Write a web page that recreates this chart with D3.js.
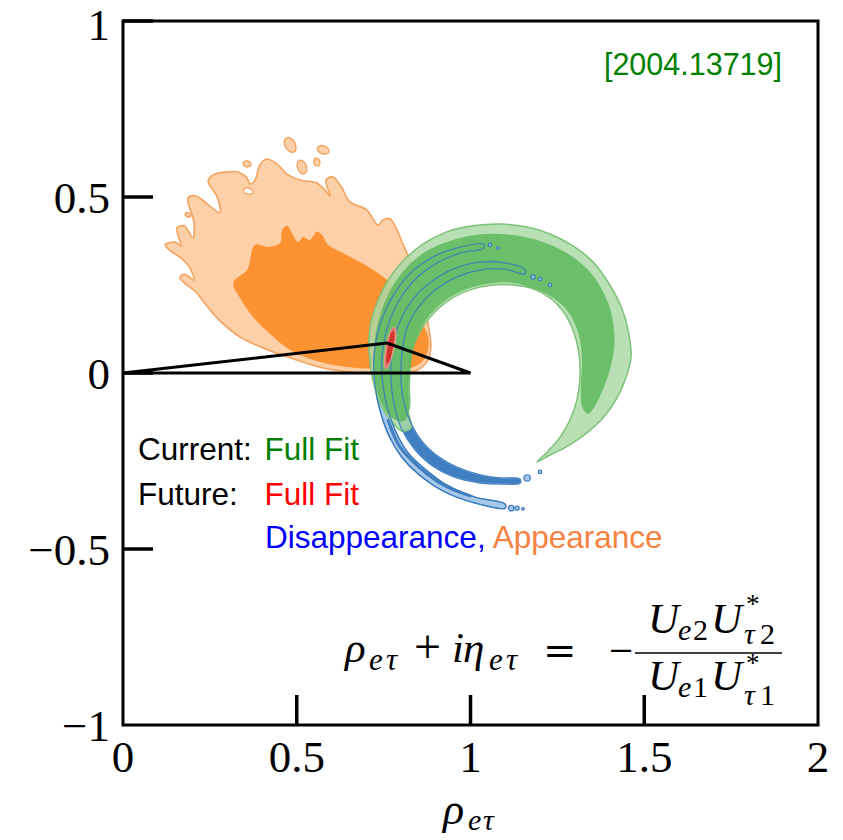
<!DOCTYPE html>
<html>
<head>
<meta charset="utf-8">
<script src="https://cdn.jsdelivr.net/npm/d3@7"></script>
<style>
  html, body { margin: 0; padding: 0; background: #ffffff; }
  svg { display: block; }
</style>
</head>
<body>
<svg id="chart" width="843" height="840"></svg>
<script>
// ---- axis ticks -------------------------------------------------------
const xTicks = [0, 0.5, 1, 1.5, 2];
const xTickLabels = ["0", "0.5", "1", "1.5", "2"];
const yTicks = [-1, -0.5, 0, 0.5, 1];
const yTickLabels = ["\u22121", "\u22120.5", "0", "0.5", "1"];

// ---- appearance channel (orange) : outer and inner credible regions ----
const appearanceOuter = [
  [0.121,0.364],[0.150,0.372],[0.167,0.361],[0.155,0.412],[0.176,0.418],[0.201,0.384],
  [0.204,0.429],[0.187,0.497],[0.210,0.503],[0.250,0.474],[0.279,0.455],[0.271,0.500],
  [0.245,0.545],[0.259,0.563],[0.299,0.571],[0.331,0.571],[0.357,0.554],[0.365,0.537],
  [0.380,0.548],[0.394,0.591],[0.414,0.608],[0.443,0.594],[0.472,0.565],[0.509,0.548],
  [0.558,0.540],[0.581,0.520],[0.596,0.503],[0.584,0.548],[0.604,0.557],[0.627,0.531],
  [0.653,0.486],[0.702,0.463],[0.734,0.420],[0.748,0.435],[0.768,0.438],[0.791,0.401],
  [0.803,0.372],[0.826,0.321],[0.840,0.278],[0.860,0.236],[0.872,0.179],[0.881,0.122],
  [0.886,0.074],[0.878,0.037],[0.852,0.011],[0.812,0.000],[0.740,-0.003],[0.653,0.003],
  [0.576,0.014],[0.481,0.043],[0.403,0.071],[0.337,0.102],[0.279,0.148],[0.239,0.193],
  [0.210,0.230],[0.164,0.270],[0.176,0.281],[0.204,0.264],[0.193,0.298],[0.170,0.324],
  [0.141,0.344]
];
const appearanceInner = [
  [0.322,0.264],[0.357,0.293],[0.380,0.364],[0.417,0.358],[0.452,0.369],[0.458,0.406],
  [0.472,0.418],[0.489,0.392],[0.504,0.372],[0.518,0.386],[0.538,0.378],[0.558,0.401],
  [0.573,0.392],[0.590,0.364],[0.633,0.341],[0.682,0.315],[0.719,0.293],[0.760,0.264],
  [0.797,0.227],[0.835,0.185],[0.860,0.145],[0.878,0.102],[0.878,0.065],[0.860,0.031],
  [0.826,0.014],[0.760,0.011],[0.645,0.017],[0.547,0.037],[0.481,0.065],[0.414,0.119],
  [0.374,0.159],[0.337,0.213],[0.317,0.250]
];
// small detached islands of the outer region: [rho, eta, rRho, rEta, tilt]
const appearanceIslands = [
  [0.481,0.648,0.0144,0.0227,-30],
  [0.576,0.634,0.0173,0.0114,20],
  [0.515,0.585,0.0130,0.0200,-20],
  [0.558,0.599,0.0086,0.0114,-10],
  [0.357,0.594,0.0115,0.0085,15],
  [0.187,0.449,0.0086,0.0057,30]
];
const appearanceHoles = [
  [0.360,0.517,0.0144,0.0085,15]
];

// ---- current full fit (green) ------------------------------------------
const fullFitOuter = [
  [0.803,-0.165],[0.777,-0.142],[0.742,-0.091],[0.719,-0.020],[0.708,0.060],[0.711,0.131],
  [0.731,0.199],[0.763,0.264],[0.806,0.318],[0.863,0.366],[0.932,0.401],[1.007,0.418],
  [1.085,0.423],[1.163,0.415],[1.229,0.395],[1.295,0.361],[1.353,0.315],[1.401,0.250],
  [1.436,0.182],[1.456,0.108],[1.462,0.045],[1.447,-0.014],[1.422,-0.071],[1.381,-0.128],
  [1.335,-0.170],[1.281,-0.207],[1.229,-0.233],[1.191,-0.253],
  [1.223,-0.222],[1.258,-0.182],[1.286,-0.134],[1.306,-0.077],[1.315,-0.014],[1.312,0.057],
  [1.295,0.122],[1.266,0.176],[1.229,0.213],[1.180,0.239],[1.122,0.250],[1.065,0.250],
  [1.007,0.239],[0.953,0.216],[0.906,0.182],[0.866,0.136],[0.837,0.080],[0.823,0.017],
  [0.817,-0.048],[0.820,-0.105],[0.829,-0.156]
];
const fullFitInner = [
  [0.774,-0.128],[0.737,-0.071],[0.722,-0.006],[0.722,0.065],[0.731,0.131],[0.751,0.196],
  [0.780,0.253],[0.820,0.304],[0.875,0.347],[0.941,0.375],[1.013,0.392],[1.085,0.395],
  [1.160,0.386],[1.226,0.366],[1.286,0.335],[1.338,0.293],[1.376,0.241],[1.401,0.185],
  [1.413,0.122],[1.413,0.065],[1.399,0.003],[1.378,-0.054],[1.355,-0.099],[1.338,-0.116],
  [1.321,-0.094],[1.318,-0.034],[1.321,0.031],[1.315,0.094],[1.298,0.145],[1.269,0.188],
  [1.229,0.219],[1.180,0.241],[1.122,0.256],[1.065,0.256],[1.007,0.244],[0.953,0.222],
  [0.906,0.188],[0.866,0.142],[0.840,0.085],[0.829,0.023],[0.826,-0.043],[0.826,-0.099],
  [0.809,-0.136]
];

// ---- future disappearance (blue): two thin degenerate bands ------------
const disappearanceBandA = [
  [1.158,0.293],[1.099,0.313],[1.025,0.315],[0.950,0.295],[0.884,0.257],[0.830,0.204],
  [0.794,0.139],[0.774,0.063],[0.771,-0.014],[0.780,-0.089],[0.800,-0.155],[0.837,-0.214],
  [0.888,-0.262],[0.949,-0.294],[1.025,-0.312],[1.085,-0.315],[1.143,-0.313],
  [1.142,-0.301],[1.085,-0.298],[1.030,-0.290],[0.962,-0.268],[0.908,-0.238],[0.861,-0.195],
  [0.828,-0.141],[0.808,-0.082],[0.800,-0.014],[0.803,0.057],[0.817,0.128],[0.851,0.188],
  [0.900,0.237],[0.961,0.273],[1.030,0.293],[1.099,0.295],[1.156,0.281]
];
const disappearanceBandB = [
  [1.038,0.366],[0.967,0.357],[0.893,0.330],[0.824,0.281],[0.774,0.214],[0.738,0.132],
  [0.722,0.044],[0.725,-0.035],[0.740,-0.108],[0.767,-0.182],[0.803,-0.240],[0.853,-0.290],
  [0.922,-0.336],[1.011,-0.369],[1.100,-0.384],
  [1.099,-0.372],[1.015,-0.353],[0.931,-0.318],[0.868,-0.272],[0.820,-0.226],[0.787,-0.171],
  [0.762,-0.102],[0.748,-0.034],[0.745,0.041],[0.759,0.123],[0.792,0.201],[0.839,0.264],
  [0.903,0.312],[0.972,0.341],[1.039,0.355]
];
const disappearanceCoreB = [
  [0.763,-0.134],[0.797,-0.210],[0.855,-0.270],[0.927,-0.321],[0.999,-0.349]
];
// stray specks at the band tips: [rho, eta, radius]
const disappearanceDots = [
  [1.180,0.273,0.006],[1.201,0.267,0.005],[1.229,0.250,0.005],
  [1.056,0.364,0.005],[1.079,0.355,0.004],
  [1.163,-0.298,0.009],[1.200,-0.281,0.005],
  [1.117,-0.384,0.008],[1.134,-0.384,0.006],[1.151,-0.386,0.004]
];

// ---- future full fit (red) ---------------------------------------------
const futureOuter = [
  [0.782,0.130],[0.786,0.110],[0.782,0.080],[0.773,0.045],[0.763,0.018],[0.756,0.012],
  [0.752,0.025],[0.755,0.060],[0.762,0.095],[0.773,0.124]
];
const futureInner = [
  [0.779,0.118],[0.780,0.095],[0.774,0.060],[0.765,0.030],[0.759,0.027],[0.759,0.055],
  [0.765,0.090],[0.772,0.115]
];

// ---- unitarity triangle -------------------------------------------------
const unitarityTriangle = [[0, 0], [0.76, 0.085], [1, 0]];

// =========================================================================
const svg = d3.select("#chart");
const x = d3.scaleLinear().domain([0, 2]).range([123, 818]);
const y = d3.scaleLinear().domain([-1, 1]).range([725, 21]);

const smooth = d3.line()
  .x(d => x(d[0])).y(d => y(d[1]))
  .curve(d3.curveCatmullRomClosed.alpha(0.5));
const straight = d3.line()
  .x(d => x(d[0])).y(d => y(d[1]))
  .curve(d3.curveLinearClosed);
const open = d3.line()
  .x(d => x(d[0])).y(d => y(d[1]))
  .curve(d3.curveCatmullRom.alpha(0.5));

const plot = svg.append("g");

function blobs(g, list, fill, stroke, sw) {
  g.selectAll(null).data(list).enter().append("ellipse")
    .attr("cx", d => x(d[0])).attr("cy", d => y(d[1]))
    .attr("rx", d => x(d[2]) - x(0)).attr("ry", d => y(0) - y(d[3]))
    .attr("transform", d => `rotate(${d[4]},${x(d[0])},${y(d[1])})`)
    .attr("fill", fill).attr("stroke", stroke).attr("stroke-width", sw);
}

// appearance
plot.append("path").attr("d", smooth(appearanceOuter))
  .attr("fill", "#fdd0a7").attr("stroke", "#f4a25e").attr("stroke-width", 1.6);
blobs(plot, appearanceIslands, "#fdd0a7", "#f4a25e", 1.4);
blobs(plot, appearanceHoles, "#ffffff", "#f4a25e", 1.4);
plot.append("path").attr("d", smooth(appearanceInner))
  .attr("fill", "#fd9233");

// disappearance fills (sit beneath the green fit)
plot.append("path").attr("d", smooth(disappearanceBandB))
  .attr("fill", "#a6c8ea").attr("stroke", "#3f7fc0").attr("stroke-width", 1.3);
plot.append("path").attr("d", open(disappearanceCoreB))
  .attr("fill", "none").attr("stroke", "#3f7fc0").attr("stroke-width", 3)
  .attr("stroke-linecap", "round");
plot.append("path").attr("d", smooth(disappearanceBandA))
  .attr("fill", "#3f7ec0").attr("stroke", "#8fb9e2").attr("stroke-width", 1.2);

// current full fit
plot.append("path").attr("d", smooth(fullFitOuter))
  .attr("fill", "#acdba7").attr("fill-opacity", 0.85)
  .attr("stroke", "#7cc279").attr("stroke-width", 1.5);
plot.append("path").attr("d", smooth(fullFitInner))
  .attr("fill", "#5db95c").attr("fill-opacity", 0.85);

// disappearance contour lines drawn over the green
plot.append("path").attr("d", smooth(disappearanceBandB))
  .attr("fill", "none").attr("stroke", "#3b7bbd").attr("stroke-width", 1.3).attr("stroke-opacity", 0.85);
plot.append("path").attr("d", smooth(disappearanceBandA))
  .attr("fill", "none").attr("stroke", "#3b7bbd").attr("stroke-width", 1.3).attr("stroke-opacity", 0.85);
plot.selectAll(null).data(disappearanceDots).enter().append("ellipse")
  .attr("cx", d => x(d[0])).attr("cy", d => y(d[1]))
  .attr("rx", d => x(d[2]) - x(0)).attr("ry", d => x(d[2]) - x(0))
  .attr("fill", "#a6c8ea").attr("stroke", "#3b7bbd").attr("stroke-width", 1.2);

// future full fit
plot.append("path").attr("d", smooth(futureOuter))
  .attr("fill", "#e8736b").attr("stroke", "#f0a19a").attr("stroke-width", 1);
plot.append("path").attr("d", smooth(futureInner))
  .attr("fill", "#d2342c");

// unitarity triangle
plot.append("path").attr("d", straight(unitarityTriangle))
  .attr("fill", "none").attr("stroke", "#000").attr("stroke-width", 3)
  .attr("stroke-linejoin", "miter");

// ---- frame and ticks ---------------------------------------------------
svg.append("rect")
  .attr("x", x(0)).attr("y", y(1))
  .attr("width", x(2) - x(0)).attr("height", y(-1) - y(1))
  .attr("fill", "none").attr("stroke", "#000").attr("stroke-width", 3);

const tickLen = 30;
svg.append("g").selectAll("line").data(xTicks.slice(1, -1)).enter().append("line")
  .attr("x1", d => x(d)).attr("x2", d => x(d))
  .attr("y1", y(-1)).attr("y2", y(-1) - tickLen)
  .attr("stroke", "#000").attr("stroke-width", 3.5);
svg.append("g").selectAll("line").data(yTicks.slice(1)).enter().append("line")
  .attr("x1", x(0)).attr("x2", x(0) + tickLen)
  .attr("y1", d => y(d)).attr("y2", d => y(d))
  .attr("stroke", "#000").attr("stroke-width", 3.5);

const serif = "'Liberation Serif', 'Times New Roman', serif";
const sans = "'Liberation Sans', Arial, Helvetica, sans-serif";

svg.append("g").selectAll("text").data(xTicks).enter().append("text")
  .attr("x", d => x(d)).attr("y", 772)
  .attr("text-anchor", "middle")
  .attr("font-family", serif).attr("font-size", 45)
  .text((d, i) => xTickLabels[i]);
// labels sit centred on their ticks, but the top one stays inside the page
svg.append("g").selectAll("text").data(yTicks).enter().append("text")
  .attr("x", 110).attr("y", d => Math.max(y(d) + 16, 40))
  .attr("text-anchor", "end")
  .attr("font-family", serif).attr("font-size", 45)
  .text((d, i) => yTickLabels[i]);

// ---- math typesetting helper -------------------------------------------
function put(str, px, py, size, italic, family) {
  svg.append("text")
    .attr("x", px).attr("y", py)
    .attr("font-family", family || serif)
    .attr("font-size", size)
    .attr("font-style", italic ? "italic" : "normal")
    .text(str);
}

// x-axis title  ρ_eτ
put("\u03C1", 443, 824, 44, true);
put("e", 468, 830, 30, true);
put("\u03C4", 483, 830, 30, true);

// relation  ρ_eτ + iη_eτ = − U_e2 U*_τ2 / U_e1 U*_τ1
put("\u03C1", 345, 662, 43, true);
put("e", 369, 670, 31, true);
put("\u03C4", 386, 670, 31, true);
put("+", 414, 663, 48, false);
put("i", 452, 662, 43, true);
put("\u03B7", 463, 662, 43, true);
put("e", 489, 670, 31, true);
put("\u03C4", 506, 670, 31, true);
put("=", 543, 664, 40, false, "'DejaVu Serif', serif");
put("\u2212", 609, 665, 43, false);
svg.append("line").attr("x1", 635).attr("x2", 782).attr("y1", 653).attr("y2", 653)
  .attr("stroke", "#000").attr("stroke-width", 1.6);
// numerator
put("U", 648, 633, 43, true);
put("e", 678, 640, 30, true); put("2", 693, 640, 30, false);
put("U", 711, 633, 43, true);
put("*", 746, 613, 27, false);
put("\u03C4", 744, 644, 30, true); put("2", 760, 644, 30, false);
// denominator
put("U", 648, 690, 43, true);
put("e", 678, 697, 30, true); put("1", 693, 697, 30, false);
put("U", 711, 690, 43, true);
put("*", 746, 672, 27, false);
put("\u03C4", 744, 705, 30, true); put("1", 760, 705, 30, false);

// ---- reference tag -----------------------------------------------------
svg.append("text").attr("x", 782).attr("y", 75)
  .attr("text-anchor", "end")
  .attr("font-family", sans).attr("font-size", 30.5)
  .attr("fill", "#008000").text("[2004.13719]");

// ---- legend ------------------------------------------------------------
const legend = svg.append("g").attr("font-family", sans).attr("font-size", 31.5);
legend.append("text").attr("x", 138).attr("y", 460).attr("fill", "#000").text("Current:");
legend.append("text").attr("x", 264.5).attr("y", 460).attr("fill", "#008000").text("Full Fit");
legend.append("text").attr("x", 138).attr("y", 505).attr("fill", "#000").text("Future:");
legend.append("text").attr("x", 264.5).attr("y", 505).attr("fill", "#ff0000").text("Full Fit");
const l3 = legend.append("text").attr("x", 265).attr("y", 548);
l3.append("tspan").attr("fill", "#0000ff").text("Disappearance");
l3.append("tspan").attr("fill", "#0000ff").text(", ");
l3.append("tspan").attr("fill", "#f5823f").text("Appearance");
</script>
</body>
</html>
